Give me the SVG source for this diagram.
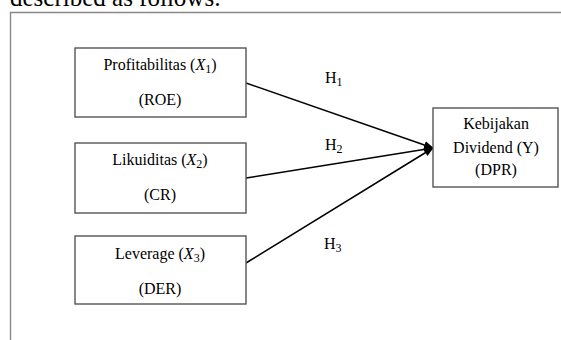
<svg xmlns="http://www.w3.org/2000/svg" width="561" height="340" viewBox="0 0 561 340">
<style>
text{font-family:"Liberation Serif","Times New Roman",serif;fill:#000}
.lbl{font-size:16px;text-anchor:middle}
.sub{font-size:12px}
.box{fill:#fff;stroke:#555;stroke-width:1.4}
.conn{stroke:#000;stroke-width:1.5;fill:none;marker-end:url(#ah)}
</style>
<defs>
<marker id="ah" markerWidth="10" markerHeight="10" refX="9" refY="5" orient="auto" markerUnits="userSpaceOnUse">
<path d="M0,1 L10,5 L0,9 Z" fill="#000"/>
</marker>
</defs>
<rect width="561" height="340" fill="#fff"/>
<text x="10" y="6" font-size="25">described as follows:</text>
<path d="M10.5,340 V12.5 H561" fill="none" stroke="#888" stroke-width="1.4"/>
<g id="connectors">
<line class="conn" x1="246" y1="83" x2="433" y2="148"/>
<line class="conn" x1="246" y1="178" x2="433" y2="148"/>
<line class="conn" x1="246" y1="263" x2="433" y2="148"/>
<text x="325" y="83" font-size="16">H<tspan class="sub" dy="3">1</tspan></text>
<text x="325" y="150" font-size="16">H<tspan class="sub" dy="3">2</tspan></text>
<text x="324" y="249" font-size="16">H<tspan class="sub" dy="3">3</tspan></text>
</g>
<g id="node-x1">
<rect class="box" x="75" y="48" width="171" height="69"/>
<text class="lbl" x="160" y="70">Profitabilitas (<tspan font-style="italic">X</tspan><tspan class="sub" dy="3">1</tspan><tspan dy="-3">)</tspan></text>
<text class="lbl" x="160" y="105">(ROE)</text>
</g>
<g id="node-x2">
<rect class="box" x="75" y="143" width="171" height="70"/>
<text class="lbl" x="160" y="165">Likuiditas (<tspan font-style="italic">X</tspan><tspan class="sub" dy="3">2</tspan><tspan dy="-3">)</tspan></text>
<text class="lbl" x="160" y="200">(CR)</text>
</g>
<g id="node-x3">
<rect class="box" x="75" y="236" width="171" height="68"/>
<text class="lbl" x="160" y="259">Leverage (<tspan font-style="italic">X</tspan><tspan class="sub" dy="3">3</tspan><tspan dy="-3">)</tspan></text>
<text class="lbl" x="160" y="294">(DER)</text>
</g>
<g id="node-y">
<rect class="box" x="433" y="108" width="125" height="79"/>
<text class="lbl" x="496" y="129">Kebijakan</text>
<text class="lbl" x="496" y="153">Dividend (Y)</text>
<text class="lbl" x="496" y="175">(DPR)</text>
</g>
</svg>
